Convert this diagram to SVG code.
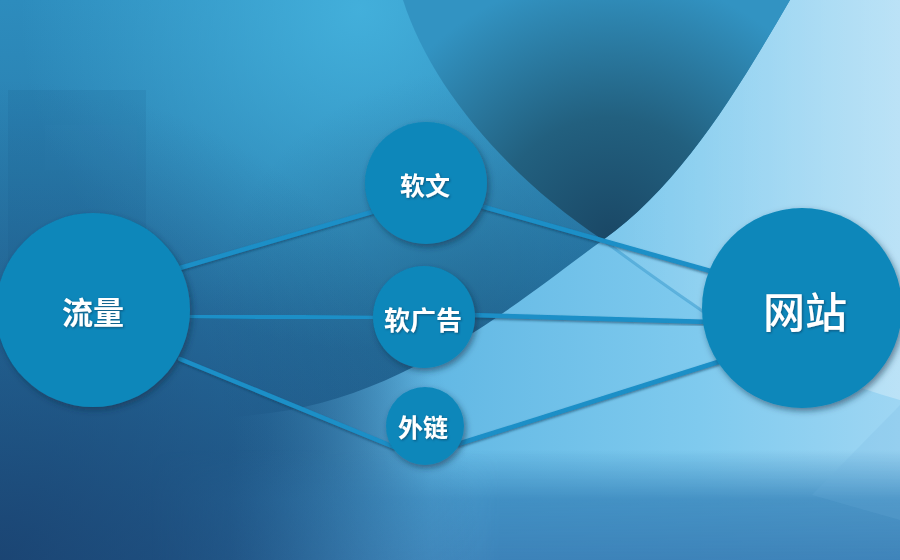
<svg xmlns="http://www.w3.org/2000/svg" width="900" height="560" viewBox="0 0 900 560">
  <defs>
    <linearGradient id="bgBase" x1="0" y1="0" x2="0" y2="560" gradientUnits="userSpaceOnUse">
      <stop offset="0" stop-color="#2d8cbd"/>
      <stop offset="0.5" stop-color="#2878a8"/>
      <stop offset="1" stop-color="#21578a"/>
    </linearGradient>
    <radialGradient id="topGlow" cx="360" cy="10" r="340" gradientUnits="userSpaceOnUse">
      <stop offset="0" stop-color="#45b3de" stop-opacity="0.9"/>
      <stop offset="1" stop-color="#45b3de" stop-opacity="0"/>
    </radialGradient>
    <radialGradient id="midDark" cx="470" cy="330" r="260" gradientUnits="userSpaceOnUse">
      <stop offset="0" stop-color="#1d5a80" stop-opacity="0.5"/>
      <stop offset="1" stop-color="#1d5a80" stop-opacity="0"/>
    </radialGradient>
    <linearGradient id="lightG" x1="230" y1="0" x2="900" y2="0" gradientUnits="userSpaceOnUse">
      <stop offset="0" stop-color="#3a86b8" stop-opacity="0"/>
      <stop offset="0.3" stop-color="#62b8e4"/>
      <stop offset="0.7" stop-color="#7fcaee"/>
      <stop offset="1" stop-color="#9ed6f3"/>
    </linearGradient>
    <linearGradient id="bottomBand" x1="0" y1="450" x2="0" y2="560" gradientUnits="userSpaceOnUse">
      <stop offset="0" stop-color="#3784ba" stop-opacity="0"/>
      <stop offset="0.45" stop-color="#3784ba" stop-opacity="0.8"/>
      <stop offset="1" stop-color="#3a7fb6" stop-opacity="0.95"/>
    </linearGradient>
    <linearGradient id="bandMaskG" x1="150" y1="0" x2="500" y2="0" gradientUnits="userSpaceOnUse">
      <stop offset="0" stop-color="#fff" stop-opacity="0"/>
      <stop offset="1" stop-color="#fff" stop-opacity="1"/>
    </linearGradient>
    <mask id="bandMask" maskUnits="userSpaceOnUse" x="0" y="0" width="900" height="560">
      <rect x="0" y="0" width="900" height="560" fill="url(#bandMaskG)"/>
    </mask>
    <radialGradient id="leftShade" cx="0" cy="560" r="480" gradientUnits="userSpaceOnUse">
      <stop offset="0" stop-color="#193f6c" stop-opacity="0.75"/>
      <stop offset="0.6" stop-color="#1b4a78" stop-opacity="0.35"/>
      <stop offset="1" stop-color="#1b4a78" stop-opacity="0"/>
    </radialGradient>
    <radialGradient id="lensG" cx="610" cy="235" r="260" gradientUnits="userSpaceOnUse">
      <stop offset="0" stop-color="#1a4866"/>
      <stop offset="0.45" stop-color="#22607f"/>
      <stop offset="1" stop-color="#3293c2"/>
    </radialGradient>
    <linearGradient id="topRight" x1="600" y1="0" x2="900" y2="0" gradientUnits="userSpaceOnUse">
      <stop offset="0" stop-color="#ffffff" stop-opacity="0.05"/>
      <stop offset="1" stop-color="#ffffff" stop-opacity="0.3"/>
    </linearGradient>
    <filter id="shadow" x="-20%" y="-20%" width="150%" height="150%">
      <feDropShadow dx="2" dy="3" stdDeviation="3" flood-color="#0b2f48" flood-opacity="0.55"/>
    </filter>
    <filter id="lineShadow" x="-5%" y="-50%" width="110%" height="200%">
      <feDropShadow dx="0" dy="1.5" stdDeviation="0.8" flood-color="#0d3d5c" flood-opacity="0.6"/>
    </filter>
    <filter id="textShadow" x="-20%" y="-20%" width="140%" height="140%">
      <feDropShadow dx="1" dy="1" stdDeviation="0.8" flood-color="#0a3550" flood-opacity="0.6"/>
    </filter>
  </defs>
  <style>
    .node { fill: #0b87ba; filter: url(#shadow); }
    .conn { stroke: #1a8fc7; stroke-width: 4.5; stroke-linecap: round; fill: none; filter: url(#lineShadow); }
    .lbl { fill: #ffffff; font-family: "Noto Sans CJK SC", "Noto Sans", sans-serif; text-anchor: middle; filter: url(#textShadow); }
    .b { font-weight: bold; }
    .m { font-weight: 500; }
  </style>

  <!-- background -->
  <g id="background">
    <rect x="0" y="0" width="900" height="560" fill="url(#bgBase)"/>
    <rect x="0" y="0" width="900" height="560" fill="url(#topGlow)"/>
    <rect x="0" y="0" width="900" height="560" fill="url(#midDark)"/>
    <rect x="8" y="90" width="138" height="215" fill="#1d5e8a" opacity="0.15"/>
    <rect x="45" y="125" width="92" height="45" fill="#3a8fbd" opacity="0.08"/>
    <!-- light region outside the big arc -->
    <path d="M790,0 C735,95 680,185 603,240 C520,300 410,395 270,413 C170,425 80,430 0,432 L0,560 L900,560 L900,0 Z" fill="url(#lightG)"/>
    <!-- upper-right lighter wedge -->
    <path d="M790,0 C735,95 680,185 603,240 C635,265 670,290 705,313 C760,348 830,380 900,400 L900,0 Z" fill="url(#topRight)"/>
    <!-- dark lens -->
    <path d="M403,0 C430,85 505,175 603,240 C680,185 735,95 790,0 Z" fill="url(#lensG)"/>
    <!-- soft edge of lower arc -->
    <path d="M603,240 C640,268 675,292 705,313" fill="none" stroke="#3f9fd0" stroke-width="3" opacity="0.6"/>
    <!-- bottom band -->
    <rect x="0" y="430" width="900" height="130" fill="url(#bottomBand)" mask="url(#bandMask)"/>
    <path d="M900,405 L812,495 L900,520 Z" fill="#6fb3df" opacity="0.18"/>
    <rect x="0" y="0" width="900" height="560" fill="url(#leftShade)"/>
  </g>

  <!-- connectors -->
  <g id="connectors">
    <line class="conn" x1="180" y1="268" x2="372" y2="212"/>
    <line class="conn" x1="185" y1="316" x2="378" y2="318"/>
    <line class="conn" x1="180" y1="359" x2="394" y2="447"/>
    <line class="conn" x1="484" y1="207" x2="714" y2="272"/>
    <line class="conn" x1="470" y1="315" x2="712" y2="322"/>
    <line class="conn" x1="458" y1="444" x2="718" y2="362"/>
  </g>

  <!-- nodes -->
  <g id="node-liuliang">
    <circle class="node" cx="93" cy="310" r="97"/>
    <text class="lbl b" x="93" y="324" font-size="31">流量</text>
  </g>
  <g id="node-ruanwen">
    <circle class="node" cx="426" cy="183" r="61"/>
    <text class="lbl b" x="425" y="195" font-size="25">软文</text>
  </g>
  <g id="node-ruanguanggao">
    <circle class="node" cx="424" cy="317" r="51"/>
    <text class="lbl b" x="423" y="330" font-size="26">软广告</text>
  </g>
  <g id="node-wailian">
    <circle class="node" cx="425" cy="426" r="39"/>
    <text class="lbl b" x="423" y="437" font-size="25">外链</text>
  </g>
  <g id="node-wangzhan">
    <circle class="node" cx="802" cy="308" r="100"/>
    <text class="lbl m" x="805" y="328" font-size="42">网站</text>
  </g>
</svg>
